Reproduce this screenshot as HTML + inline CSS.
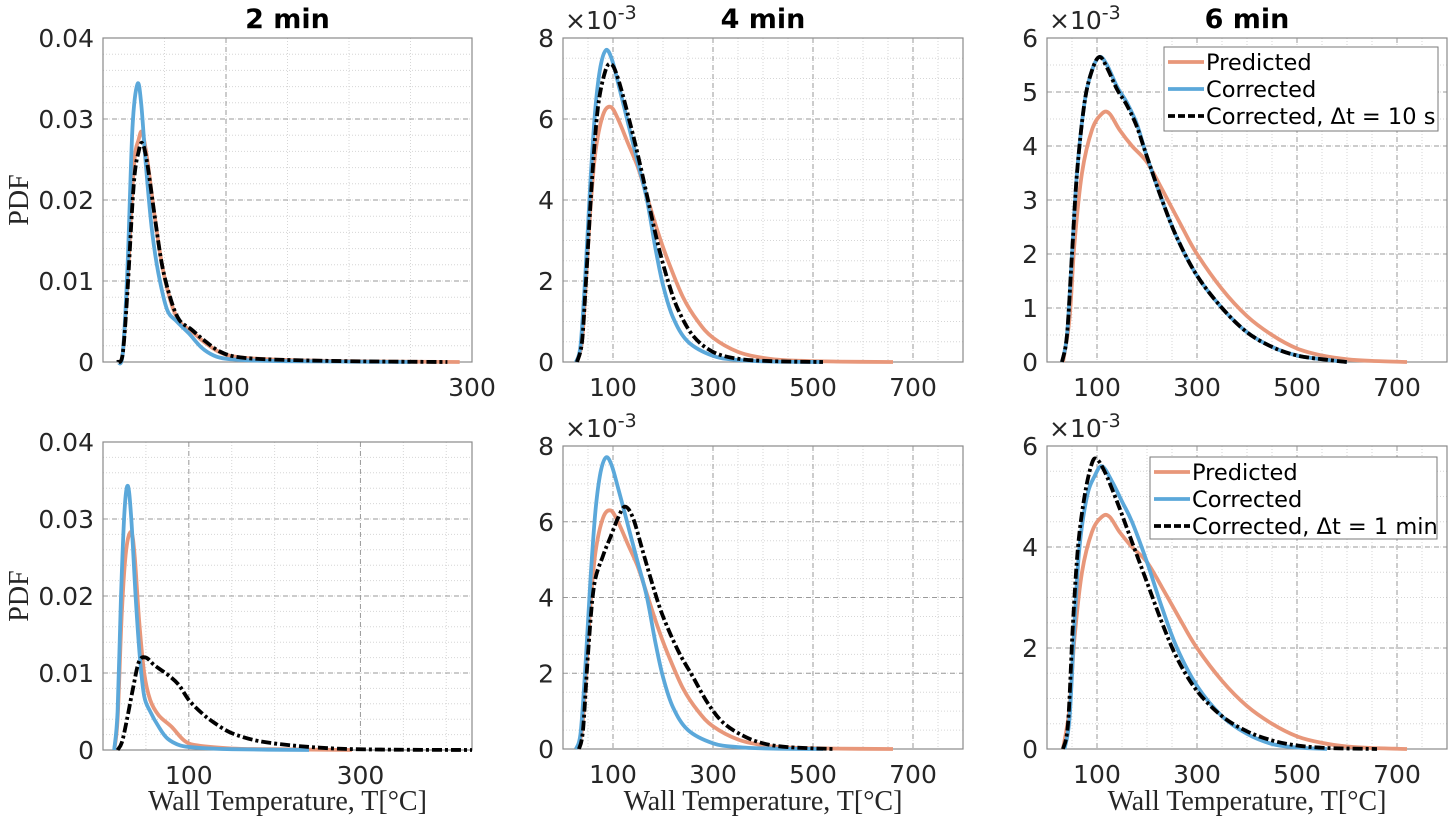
<!DOCTYPE html>
<html><head><meta charset="utf-8">
<style>
html,body{margin:0;padding:0;background:#fff;}
svg{display:block;}
.tick{font-family:"DejaVu Sans","Liberation Sans",sans-serif;font-size:25px;fill:#262626;}
.title{font-family:"DejaVu Sans","Liberation Sans",sans-serif;font-size:27px;font-weight:bold;fill:#000;}
.lab{font-family:"Liberation Serif",serif;font-size:28px;fill:#262626;}
.leg{font-family:"DejaVu Sans","Liberation Sans",sans-serif;font-size:22.5px;fill:#000;}
</style></head>
<body>
<svg id="fig" width="1453" height="824" viewBox="0 0 1453 824" xmlns="http://www.w3.org/2000/svg"></svg>
<script>
// ---- data (T in °C, PDF; middle/right panels in units of 1e-3) ----
const p1Pred=[[12,0],[16,0.001],[20,0.010],[25,0.024],[29,0.0275],[32,0.0283],[36,0.025],[42,0.018],[48,0.012],[55,0.0075],[62,0.005],[72,0.0038],[82,0.0025],[95,0.0012],[110,0.0006],[140,0.0003],[200,0.0001],[290,0]];
const p1Corr=[[12,0],[16,0.001],[20,0.012],[24,0.029],[28,0.0343],[31,0.032],[35,0.024],[40,0.016],[45,0.011],[52,0.0065],[60,0.005],[70,0.0035],[80,0.0018],[90,0.0008],[100,0.0004],[120,0.0002],[150,0.0001],[220,0.00003],[250,0]];
const p1Dt=[[12,0],[16,0.001],[20,0.009],[25,0.022],[29,0.026],[32,0.027],[36,0.0245],[42,0.018],[48,0.012],[55,0.0078],[62,0.0052],[72,0.004],[82,0.0027],[95,0.0013],[110,0.0006],[140,0.0003],[200,0.0001],[280,0]];
const p2Pred=[[28,0],[38,0.5],[46,2],[55,3.8],[65,5.2],[80,6.1],[95,6.3],[110,6.0],[130,5.4],[150,4.8],[170,4.0],[190,3.2],[210,2.5],[240,1.6],[270,1.0],[300,0.6],[350,0.25],[400,0.1],[450,0.04],[550,0.01],[660,0]];
const p2Corr=[[26,0],[35,0.4],[44,2],[55,4.5],[65,6.3],[75,7.3],[86,7.7],[97,7.5],[110,6.9],[130,5.9],[150,4.9],[168,4],[185,2.8],[200,1.9],[220,1.1],[250,0.5],[300,0.15],[350,0.05],[420,0.01],[520,0]];
const p2Dt=[[28,0],[38,0.5],[46,2],[58,4.5],[70,6.3],[85,7.2],[97,7.35],[110,7.0],[130,6.1],[150,5.1],[170,4.0],[190,2.9],[210,2.0],[230,1.3],[260,0.65],[300,0.25],[350,0.08],[420,0.02],[520,0]];
const p3Pred=[[32,0],[45,0.8],[55,2.2],[70,3.5],[90,4.3],[110,4.6],[125,4.6],[145,4.3],[170,4.0],[200,3.7],[230,3.2],[270,2.5],[300,2.0],[350,1.35],[400,0.85],[450,0.5],[500,0.25],[550,0.12],[600,0.05],[650,0.02],[720,0]];
const p3Corr=[[30,0],[40,0.5],[50,2],[60,3.5],[75,4.8],[90,5.4],[105,5.65],[120,5.5],[140,5.1],[160,4.8],[180,4.4],[200,3.8],[230,3.0],[260,2.3],[300,1.6],[350,1.0],[400,0.55],[450,0.28],[500,0.12],[560,0.04],[600,0]];
const p3Dt=[[30,0],[40,0.5],[50,2],[60,3.5],[75,4.8],[90,5.4],[105,5.65],[120,5.45],[140,5.05],[160,4.75],[180,4.35],[200,3.8],[230,3.0],[260,2.3],[300,1.6],[350,1.0],[400,0.55],[450,0.28],[500,0.12],[560,0.04],[600,0]];
const p4Pred=[[13,0],[17,0.004],[22,0.018],[27,0.026],[33,0.0283],[37,0.025],[42,0.017],[48,0.01],[55,0.0065],[65,0.0045],[80,0.003],[95,0.0012],[110,0.0006],[150,0.0002],[200,0.0001],[290,0]];
const p4Corr=[[13,0],[17,0.005],[21,0.02],[25,0.031],[29,0.0343],[33,0.03],[38,0.02],[43,0.012],[48,0.007],[55,0.005],[65,0.003],[75,0.0015],[90,0.0006],[110,0.0003],[150,0.0001],[240,0]];
const p4Dt=[[17,0],[22,0.001],[28,0.004],[35,0.008],[42,0.0115],[50,0.012],[60,0.011],[75,0.0098],[88,0.0085],[100,0.0065],[115,0.0048],[130,0.0035],[150,0.0022],[180,0.0012],[220,0.0006],[270,0.0002],[330,0.00005],[430,0]];
const p5Pred=p2Pred;
const p5Corr=p2Corr;
const p5Dt=[[32,0],[40,0.5],[50,2.5],[62,4.3],[80,5.1],[95,5.6],[110,6.1],[124,6.4],[140,6.1],[160,5.2],[180,4.3],[200,3.5],[230,2.6],[260,1.9],[290,1.2],[320,0.7],[360,0.35],[400,0.15],[450,0.05],[540,0]];
const p6Pred=p3Pred;
const p6Corr=[[35,0],[45,0.6],[55,2.5],[65,4],[80,5],[95,5.4],[110,5.6],[130,5.3],[150,4.9],[170,4.5],[200,3.7],[230,2.8],[260,2.0],[300,1.25],[350,0.65],[400,0.3],[450,0.1],[500,0.03],[560,0]];
const p6Dt=[[32,0],[42,0.5],[52,2.5],[62,4],[75,5],[88,5.6],[98,5.75],[115,5.5],[140,4.9],[170,4.1],[200,3.3],[230,2.5],[260,1.8],[300,1.15],[350,0.65],[400,0.35],[450,0.17],[500,0.07],[560,0.02],[660,0]];
const xTicksLeft=[100,300];
const xTicksMid=[100,300,500,700];
const yTicksLeft=[0,0.01,0.02,0.03,0.04];
const yLabelsLeft=["0","0.01","0.02","0.03","0.04"];
const yTicks8=[0,2,4,6,8];
const yTicks6a=[0,1,2,3,4,5,6];
const yTicks6b=[0,2,4,6];
const titles=["2 min","4 min","6 min"];
const legendTop=["Predicted","Corrected","Corrected, \u0394t = 10 s"];
const legendBot=["Predicted","Corrected","Corrected, \u0394t = 1 min"];

const NS="http://www.w3.org/2000/svg";
const svg=document.getElementById('fig');
function mk(tag,attrs,parent){const e=document.createElementNS(NS,tag);for(const k in attrs)e.setAttribute(k,attrs[k]);(parent||svg).appendChild(e);return e;}
const ORANGE="#E8977A", BLUE="#5BA8DA";

function smooth(pts){
  let d="M"+pts[0][0].toFixed(1)+","+pts[0][1].toFixed(1);
  for(let i=0;i<pts.length-1;i++){
    const p0=pts[Math.max(0,i-1)],p1=pts[i],p2=pts[i+1],p3=pts[Math.min(pts.length-1,i+2)];
    const c1x=p1[0]+(p2[0]-p0[0])/6,c1y=p1[1]+(p2[1]-p0[1])/6;
    const c2x=p2[0]-(p3[0]-p1[0])/6,c2y=p2[1]-(p3[1]-p1[1])/6;
    d+=" C"+c1x.toFixed(1)+","+c1y.toFixed(1)+" "+c2x.toFixed(1)+","+c2y.toFixed(1)+" "+p2[0].toFixed(1)+","+p2[1].toFixed(1);
  }
  return d;
}

function panel(o){
  const g=mk('g',{});
  
  
  const X=v=>o.x0+(v-o.xmin)/(o.xmax-o.xmin)*(o.x1-o.x0);
  const Y=v=>o.y1-(v-o.ymin)/(o.ymax-o.ymin)*(o.y1-o.y0);
  for(let v=o.xmin+50;v<o.xmax;v+=50){
    const l=mk('line',{x1:X(v),x2:X(v),y1:o.y0,y2:o.y1,stroke:"#d6d6d6","stroke-width":1,"stroke-dasharray":"1,2"},g);
    
  }
  for(let v=o.ymin+o.ymStep;v<o.ymax-1e-9;v+=o.ymStep){
    const l=mk('line',{x1:o.x0,x2:o.x1,y1:Y(v),y2:Y(v),stroke:"#d6d6d6","stroke-width":1,"stroke-dasharray":"1,2"},g);
    
  }
  o.xt.forEach(v=>{
    const l=mk('line',{x1:X(v),x2:X(v),y1:o.y0,y2:o.y1,stroke:"#9a9a9a","stroke-width":1,"stroke-dasharray":"5,4"},g);
    
    const t=mk('text',{x:X(v),y:o.y1+34,"text-anchor":"middle",class:"tick"},g);t.textContent=v;
    
  });
  o.yt.forEach((v,i)=>{
    const l=mk('line',{x1:o.x0,x2:o.x1,y1:Y(v),y2:Y(v),stroke:"#9a9a9a","stroke-width":1,"stroke-dasharray":"5,4"},g);
    
    const t=mk('text',{x:o.x0-9,y:Y(v)+9,"text-anchor":"end",class:"tick"},g);t.textContent=o.yl?o.yl[i]:v;
    
  });
  const fr=mk('rect',{x:o.x0,y:o.y0,width:o.x1-o.x0,height:o.y1-o.y0,fill:"none",stroke:"#8a8a8a","stroke-width":1.2},g);
  
  if(o.exp){
    const t=mk('text',{x:o.x0+2,y:o.y0-9,class:"tick"},g);
    t.innerHTML='×10<tspan dy="-10" font-size="19">-3</tspan>';
    
  }
  const series=[[o.pred,ORANGE,null,'predicted-line'],[o.corr,BLUE,null,'corrected-line'],[o.dt,"#000","10,3,3,3",'corrected-dt-line']];
  series.forEach(s=>{
    const pts=s[0].map(p=>[X(p[0]),Y(p[1])]);
    const a={d:smooth(pts),fill:"none",stroke:s[1],"stroke-width":3.8,"stroke-linejoin":"round"};
    if(s[2])a["stroke-dasharray"]=s[2];
    const p=mk('path',a,g);
    
  });
  if(o.title){const t=mk('text',{x:(o.x0+o.x1)/2,y:28,"text-anchor":"middle",class:"title"},g);t.textContent=o.title;
    }
  if(o.ylab){const t=mk('text',{x:0,y:0,"text-anchor":"middle",class:"lab",transform:`translate(28,${(o.y0+o.y1)/2}) rotate(-90)`},g);t.textContent="PDF";
    }
  if(o.xlab){const t=mk('text',{x:(o.x0+o.x1)/2,y:810,"text-anchor":"middle",class:"lab"},g);t.textContent="Wall Temperature, T[°C]";
    }
  if(o.legend){
    const L=o.legPos;
    const lg=mk('g',{},g);
    
    mk('rect',{x:L[0],y:L[1],width:L[2],height:L[3],fill:"#fff",stroke:"#7a7a7a","stroke-width":1},lg);
    const cols=[ORANGE,BLUE,"#000"];
    o.legend.forEach((txt,i)=>{
      const yy=L[1]+15+i*27;
      const a={x1:L[0]+4,x2:L[0]+40,y1:yy,y2:yy,stroke:cols[i],"stroke-width":3.8};
      if(i==2)a["stroke-dasharray"]="7,3";
      const ln=mk('line',a,lg);
      
      const t=mk('text',{x:L[0]+42,y:yy+8,class:"leg"},lg);t.textContent=txt;
      
    });
  }
}
const T0=38,T1=362,B0=446,B1=749;
panel({name:'panel-2min-top',x0:103,x1:472,y0:T0,y1:T1,xmin:0,xmax:300,ymin:0,ymax:0.04,ymStep:0.002,xt:xTicksLeft,yt:yTicksLeft,yl:yLabelsLeft,pred:p1Pred,corr:p1Corr,dt:p1Dt,title:titles[0],ylab:true});
panel({name:'panel-4min-top',x0:563,x1:963,y0:T0,y1:T1,xmin:0,xmax:800,ymin:0,ymax:8,ymStep:0.5,xt:xTicksMid,yt:yTicks8,pred:p2Pred,corr:p2Corr,dt:p2Dt,title:titles[1],exp:true});
panel({name:'panel-6min-top',x0:1047,x1:1447,y0:T0,y1:T1,xmin:0,xmax:800,ymin:0,ymax:6,ymStep:0.5,xt:xTicksMid,yt:yTicks6a,pred:p3Pred,corr:p3Corr,dt:p3Dt,title:titles[2],exp:true,legend:legendTop,legPos:[1164,47,274,84]});
panel({name:'panel-2min-bottom',x0:103,x1:472,y0:B0-4,y1:B1+1,xmin:0,xmax:430,ymin:0,ymax:0.04,ymStep:0.002,xt:xTicksLeft,yt:yTicksLeft,yl:yLabelsLeft,pred:p4Pred,corr:p4Corr,dt:p4Dt,ylab:true,xlab:true});
panel({name:'panel-4min-bottom',x0:563,x1:963,y0:B0,y1:B1,xmin:0,xmax:800,ymin:0,ymax:8,ymStep:0.5,xt:xTicksMid,yt:yTicks8,pred:p5Pred,corr:p5Corr,dt:p5Dt,exp:true,xlab:true});
panel({name:'panel-6min-bottom',x0:1047,x1:1447,y0:B0,y1:B1,xmin:0,xmax:800,ymin:0,ymax:6,ymStep:0.5,xt:xTicksMid,yt:yTicks6b,pred:p6Pred,corr:p6Corr,dt:p6Dt,exp:true,xlab:true,legend:legendBot,legPos:[1150,457,287,82]});
</script>
</body></html>
